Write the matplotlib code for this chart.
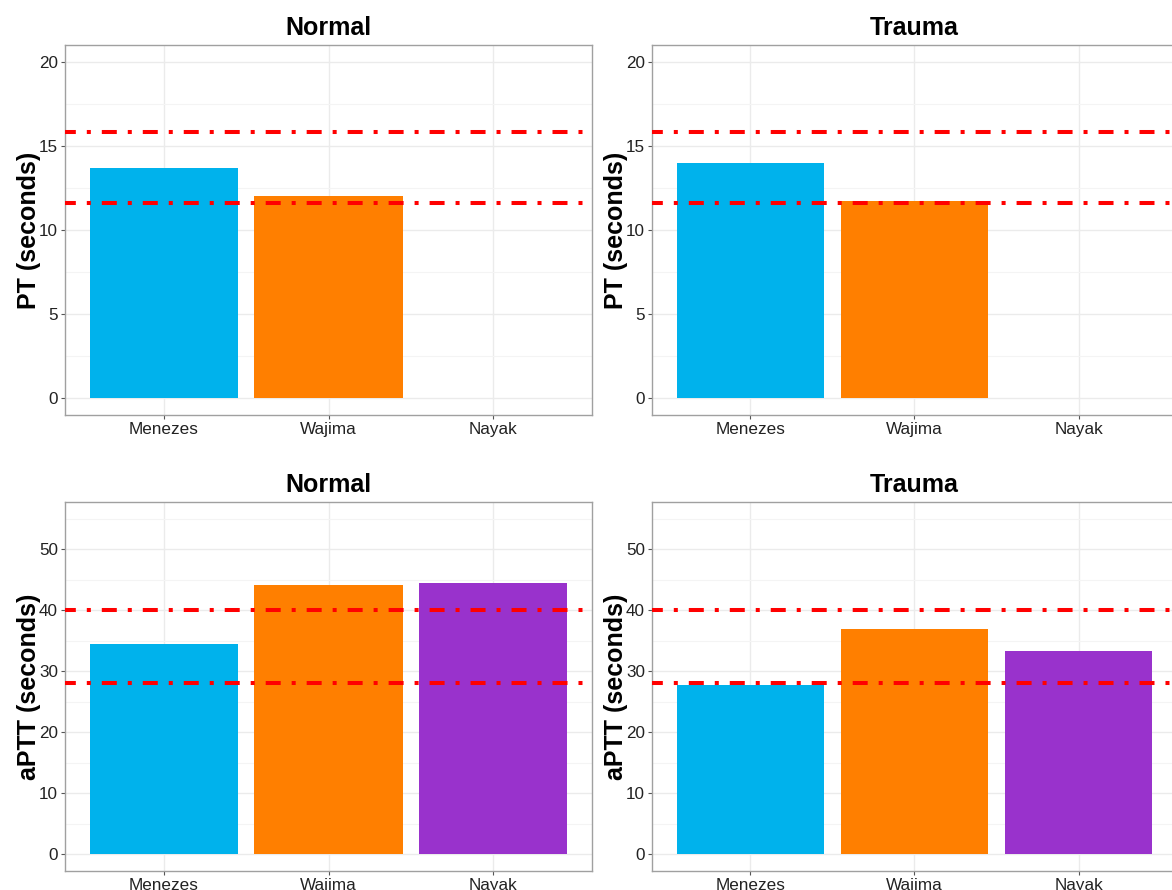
import numpy as np
import matplotlib
matplotlib.use("Agg")
import matplotlib.pyplot as plt

plt.rcParams['font.family'] = ['Liberation Sans', 'DejaVu Sans']
plt.rcParams['lines.scale_dashes'] = False

# data
categories = ['Menezes', 'Wajima', 'Nayak']
bar_colors = ['#00B2EC', '#FF7F00', '#9932CC']

pt_normal = [13.7, 12.05, None]
pt_trauma = [14.0, 11.75, None]
aptt_normal = [34.5, 44.2, 44.5]
aptt_trauma = [27.7, 36.9, 33.3]

pt_ref = [11.6, 15.8]
aptt_ref = [28, 40]

fig = plt.figure(figsize=(11.72, 8.90), dpi=100)
W, H = 1172, 890


def px_axes(l, t, r, b):
    return fig.add_axes([l / W, 1 - b / H, (r - l) / W, (b - t) / H])


def panel(ax, vals, ref, title, ylabel, ylim, major, minor):
    for i, v in enumerate(vals):
        if v is not None:
            ax.bar(i, v, width=0.9, color=bar_colors[i], zorder=2)
    for r in ref:
        ax.axhline(r, color='#FF0000', lw=2.9, ls=(3, (10.8, 7.9, 2.9, 7.9)),
                   zorder=3, solid_capstyle='butt', dash_capstyle='butt')
    ax.set_xlim(-0.6, 2.6)
    ax.set_xticks(range(len(categories)), categories)
    ax.set_ylim(ylim)
    ax.set_yticks(major)
    ax.set_yticks(minor, minor=True)
    ax.grid(which='major', color='#EBEBEB', lw=1.0)
    ax.grid(which='minor', axis='y', color='#F4F4F4', lw=0.8)
    ax.set_axisbelow(True)
    ax.tick_params(which='minor', length=0)
    ax.tick_params(which='major', length=3, width=0.8, color='#555555',
                   labelsize=12.3, labelcolor='#222222', pad=2)
    for s in ax.spines.values():
        s.set_color('#A0A0A0')
        s.set_linewidth(1.0)
    ax.set_title(title, fontsize=18, fontweight='bold', pad=7)
    ax.set_ylabel(ylabel, fontsize=18, fontweight='bold')
    ax.yaxis.set_label_coords(-0.045, 0.5)


ax1 = px_axes(65, 45, 592, 415)
panel(ax1, pt_normal, pt_ref, 'Normal', 'PT (seconds)', (-1, 21),
      [0, 5, 10, 15, 20], [2.5, 7.5, 12.5, 17.5])
ax2 = px_axes(652, 45, 1177, 415)
panel(ax2, pt_trauma, pt_ref, 'Trauma', 'PT (seconds)', (-1, 21),
      [0, 5, 10, 15, 20], [2.5, 7.5, 12.5, 17.5])
ax3 = px_axes(65, 502, 592, 871)
panel(ax3, aptt_normal, aptt_ref, 'Normal', 'aPTT (seconds)', (-2.75, 57.75),
      [0, 10, 20, 30, 40, 50], [5, 15, 25, 35, 45, 55])
ax4 = px_axes(652, 502, 1177, 871)
panel(ax4, aptt_trauma, aptt_ref, 'Trauma', 'aPTT (seconds)', (-2.75, 57.75),
      [0, 10, 20, 30, 40, 50], [5, 15, 25, 35, 45, 55])

fig.savefig('out.png', dpi=100)
